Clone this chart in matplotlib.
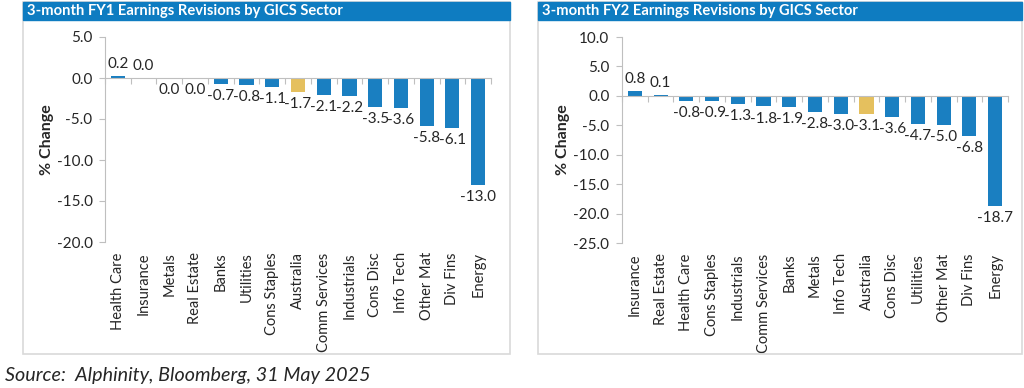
import matplotlib.pyplot as plt
import matplotlib.transforms as mtransforms
from matplotlib.patches import Rectangle

plt.rcParams['font.family'] = ['Lato', 'DejaVu Sans']

# FY1 panel data
fy1_sectors = ['Health Care', 'Insurance', 'Metals', 'Real Estate', 'Banks', 'Utilities',
               'Cons Staples', 'Australia', 'Comm Services', 'Industrials', 'Cons Disc',
               'Info Tech', 'Other Mat', 'Div Fins', 'Energy']
fy1_values = [0.2, 0.04, -0.04, -0.04, -0.7, -0.8, -1.1, -1.7, -2.1, -2.2, -3.5, -3.6,
              -5.8, -6.1, -13.0]
fy1_ticks = [5.0, 0.0, -5.0, -10.0, -15.0, -20.0]

# FY2 panel data
fy2_sectors = ['Insurance', 'Real Estate', 'Health Care', 'Cons Staples', 'Industrials',
               'Comm Services', 'Banks', 'Metals', 'Info Tech', 'Australia', 'Cons Disc',
               'Utilities', 'Other Mat', 'Div Fins', 'Energy']
fy2_values = [0.8, 0.1, -0.8, -0.9, -1.3, -1.8, -1.9, -2.8, -3.0, -3.1, -3.6, -4.7,
              -5.0, -6.8, -18.7]
fy2_ticks = [10.0, 5.0, 0.0, -5.0, -10.0, -15.0, -20.0, -25.0]

BLUE = '#1a7fc1'
GOLD = '#e5c05e'
GREY = '#bfbfbf'
TXT = '#262626'

W, H = 1024, 388
fig = plt.figure(figsize=(W / 100, H / 100), dpi=100)


def px_axes(x0, y0, x1, y1):
    # pixel box (top-left origin) -> figure fraction
    return fig.add_axes([x0 / W, 1 - y1 / H, (x1 - x0) / W, (y1 - y0) / H])


def label_text(v):
    s = f'{v:.1f}'
    return '0.0' if s == '-0.0' else s


def panel(frame, title, ax_box, ylabel_x, sectors, values, ticks):
    fx0, fy0, fx1, fy1 = frame
    fig.patches.append(Rectangle((fx0 / W, 1 - fy1 / H), (fx1 - fx0) / W, (fy1 - fy0) / H,
                                 transform=fig.transFigure, fill=False,
                                 edgecolor='#d9d9d9', lw=1.2))
    fig.patches.append(Rectangle((fx0 / W, 1 - 20 / H), (fx1 - fx0) / W, 18 / H,
                                 transform=fig.transFigure, color='#0e7cc1'))
    fig.text((fx0 + 4) / W, 1 - 11 / H, title, color='white', fontsize=10.6,
             fontweight='bold', va='center', ha='left')

    ax = px_axes(*ax_box)
    x = list(range(len(sectors)))
    colors = [GOLD if s == 'Australia' else BLUE for s in sectors]
    ax.bar(x, values, width=0.55, color=colors, zorder=2)

    ax.set_xlim(-0.5, len(sectors) - 0.5)
    ax.set_ylim(ticks[-1], ticks[0])
    ax.set_yticks(ticks)
    ax.set_yticklabels([f'{t:.1f}' for t in ticks], fontsize=11, color=TXT)
    ax.tick_params(axis='y', length=4, color=GREY, pad=5)

    for s in ['top', 'right']:
        ax.spines[s].set_visible(False)
    ax.spines['left'].set_color(GREY)
    ax.spines['bottom'].set_position(('data', 0))
    ax.spines['bottom'].set_color(GREY)
    ax.set_xticks([i + 0.5 for i in x[:-1]] + [-0.5, len(sectors) - 0.5])
    ax.set_xticklabels([])
    ax.tick_params(axis='x', length=4, color=GREY, direction='out')

    span = ticks[0] - ticks[-1]
    for i, v in enumerate(values):
        off = span * 0.025
        if v >= 0:
            ax.text(i, v + off, label_text(v), ha='center', va='bottom', fontsize=11, color=TXT)
        else:
            ax.text(i, v - off, label_text(v), ha='center', va='top', fontsize=11, color=TXT)

    trans = mtransforms.blended_transform_factory(ax.transData, ax.transAxes)
    for i, s in enumerate(sectors):
        ax.text(i, -0.05, s, rotation=90, ha='center', va='top', fontsize=10.5,
                color=TXT, transform=trans)

    fig.text(ylabel_x / W, 1 - ((ax_box[1] + ax_box[3]) / 2) / H, '% Change',
             rotation=90, fontsize=11.5, fontweight='bold', ha='center', va='center', color=TXT)
    return ax


panel((23, 2, 510, 354), '3-month FY1 Earnings Revisions by GICS Sector',
      (105, 37, 491, 242), 47, fy1_sectors, fy1_values, fy1_ticks)
panel((538, 2, 1022, 354), '3-month FY2 Earnings Revisions by GICS Sector',
      (622, 37, 1008, 243), 563, fy2_sectors, fy2_values, fy2_ticks)

fig.text(5 / W, 1 - 375 / H, 'Source:  Alphinity, Bloomberg, 31 May 2025', fontsize=14.2,
         style='italic', ha='left', va='center', color=TXT)

fig.savefig('out.png', dpi=100)
